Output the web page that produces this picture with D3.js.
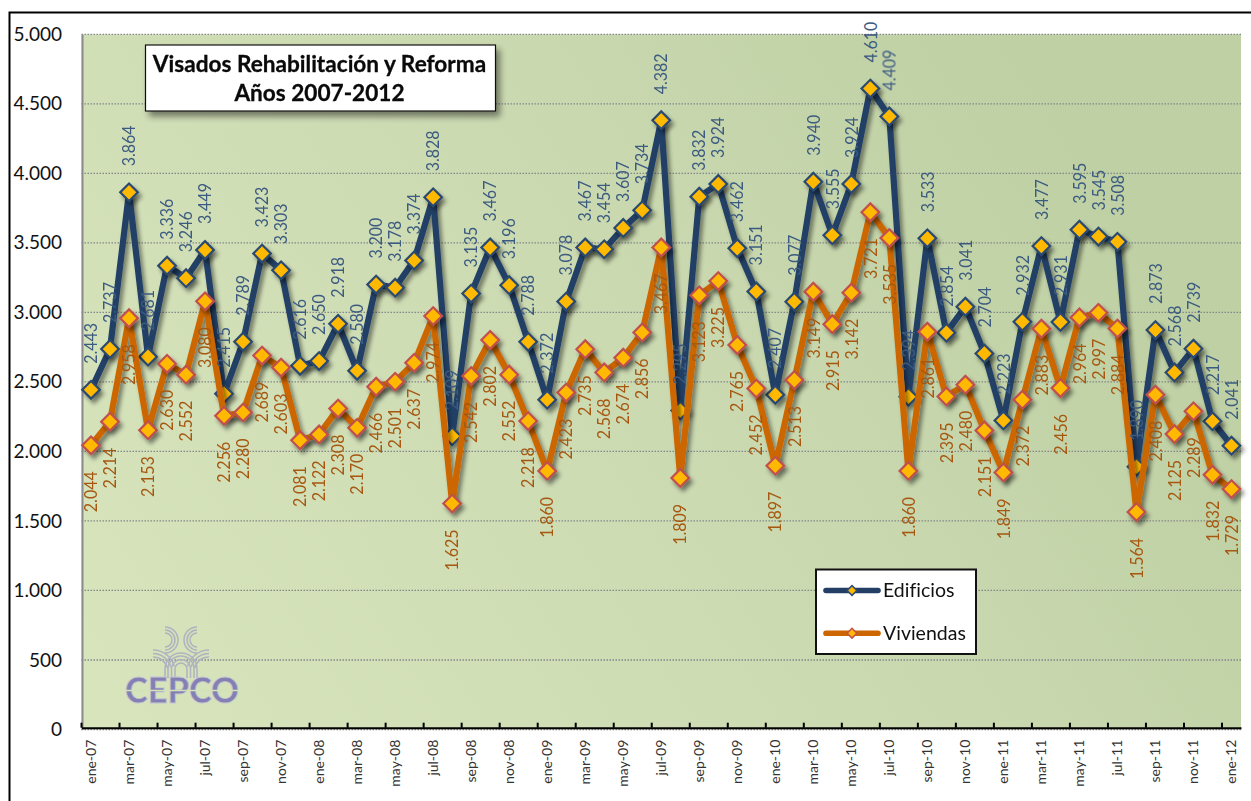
<!DOCTYPE html>
<html><head><meta charset="utf-8">
<script src="https://cdnjs.cloudflare.com/ajax/libs/d3/7.8.5/d3.min.js"></script>
<style>html,body{margin:0;padding:0;background:#fff;overflow:hidden}text{font-family:Lato,"Open Sans",sans-serif;font-variant-ligatures:none}</style>
</head><body><svg id="c" width="1251" height="801"></svg>
<script>
const years=["07","08","09","10","11"];
const months=["ene","feb","mar","abr","may","jun","jul","ago","sep","oct","nov","dic"];
const categories=[];years.forEach(y=>months.forEach(m=>categories.push(m+"-"+y)));categories.push("ene-12");
const edificios=[2443,2737,3864,2681,3336,3246,3449,2415,2789,3423,3303,2616,
2650,2918,2580,3200,3178,3374,3828,2109,3135,3467,3196,2788,
2372,3078,3467,3454,3607,3734,4382,2295,3832,3924,3462,3151,
2407,3077,3940,3555,3924,4610,4409,2394,3533,2854,3041,2704,
2223,2932,3477,2931,3595,3545,3508,1890,2873,2568,2739,2217,
2041];
const viviendas=[2044,2214,2958,2153,2630,2552,3080,2256,2280,2689,2603,2081,
2122,2308,2170,2466,2501,2637,2974,1625,2542,2802,2552,2218,
1860,2423,2735,2568,2674,2856,3467,1809,3123,3225,2765,2452,
1897,2513,3149,2915,3142,3721,3535,1860,2861,2395,2480,2151,
1849,2372,2883,2456,2964,2997,2884,1564,2408,2125,2289,1832,
1729];
const yTicks=[0,500,1000,1500,2000,2500,3000,3500,4000,4500,5000];
const titleLines=["Visados Rehabilitación y Reforma","Años 2007-2012"];
const seriesDefs=[
 {name:"Edificios",values:edificios,line:"#243f66",edge:"#2c4a70",label:"#3c5b80",dir:-1},
 {name:"Viviendas",values:viviendas,line:"#cc6600",edge:"#c0504d",label:"#a65810",dir:1}];

const fmt=v=>d3.format(",")(v).replace(/,/g,".");
const svg=d3.select("#c");
const L=81.5,R=1241,T=34.3,B=729.5;
const x=d3.scaleBand().domain(categories).range([L,R]);
const y=d3.scaleLinear().domain([0,5000]).range([B,T]);
const defs=svg.append("defs");
const g=defs.append("linearGradient").attr("id","bg").attr("x1","0").attr("y1","0.9").attr("x2","1").attr("y2","0.5");
g.append("stop").attr("offset","0").attr("stop-color","#d7e4bc");
g.append("stop").attr("offset","0.5").attr("stop-color","#cddbb3");
g.append("stop").attr("offset","1").attr("stop-color","#bfd0a4");
const sh=defs.append("filter").attr("id","sh").attr("x","-10%").attr("y","-10%").attr("width","120%").attr("height","125%");
sh.append("feDropShadow").attr("dx",3).attr("dy",4).attr("stdDeviation",2.2).attr("flood-color","#000").attr("flood-opacity",.45);
const sb=defs.append("filter").attr("id","sb").attr("x","-5%").attr("y","-10%").attr("width","115%").attr("height","130%");
sb.append("feDropShadow").attr("dx",4).attr("dy",5).attr("stdDeviation",3).attr("flood-color","#000").attr("flood-opacity",.45);

svg.append("rect").attr("x",L).attr("y",T).attr("width",R-L).attr("height",B-T).attr("fill","url(#bg)");
svg.append("path").attr("d","M9.5 801V12.5H1251").attr("fill","none").attr("stroke","#000").attr("stroke-width",2);
svg.append("g").selectAll("line").data(yTicks).join("line")
 .attr("x1",L).attr("x2",R).attr("y1",d=>y(d)).attr("y2",d=>y(d))
 .attr("stroke","#84878a").attr("stroke-width",1.3).attr("stroke-dasharray","1.5 1.5");
const ya=svg.append("g").attr("transform",`translate(${L+.5},0)`)
 .call(d3.axisLeft(y).tickValues(yTicks).tickSize(0).tickPadding(20).tickFormat(fmt));
ya.select(".domain").attr("stroke","#8a8a8a").attr("stroke-width",2);
ya.selectAll("text").attr("font-size",19).attr("fill","#111").attr("font-family","Lato");
const xa=svg.append("g").attr("transform",`translate(0,${B-1.8})`);
const xAxis=d3.axisBottom(x).tickValues(categories.filter((d,i)=>i%2==0)).tickSize(0).tickPadding(0);
xa.call(xAxis);
xa.select(".domain").attr("stroke","#000").attr("stroke-width",2);
xa.selectAll("text").attr("font-size",14).attr("fill","#333").attr("font-family","Lato")
 .attr("text-anchor","end").attr("dy",null)
 .attr("transform","translate(0,12) rotate(-90)").attr("x",0).attr("y",4.5);
xa.selectAll(".tick").append("line").attr("x1",-x.bandwidth()/2).attr("x2",-x.bandwidth()/2).attr("y1",0).attr("y2",-5).attr("stroke","#000").attr("stroke-width",2);
// logo
const logo=svg.append("g");
const arc=(cx,cy,r,a0,a1)=>{const p=d3.path();p.arc(cx,cy,r,a0,a1);return p.toString();};
const PI=Math.PI;
const band=(cx,cy,rs,a0,a1,extra)=>rs.forEach(r=>{
  logo.append("path").attr("d",arc(cx,cy,r,a0,a1)+(extra?extra(r):"")).attr("fill","none").attr("stroke","#aeb3bf").attr("stroke-width",1.5);
});
band(165,640,[7,10,13],-PI/2,PI/2);
band(197,640,[7,10,13],PI/2,PI*1.5);
band(153,672,[15,18.5,22],-PI/2,-PI*.08);
band(209,672,[15,18.5,22],-PI*.92,-PI/2);
band(181,669,[6,9.5,13,16],PI,2*PI,r=>`v9M${181-r} 669v9`);
logo.append("text").attr("x",182).attr("y",703).attr("text-anchor","middle").attr("font-size",36).attr("font-weight",900)
 .attr("textLength",114).attr("lengthAdjust","spacingAndGlyphs").attr("fill","#8580b4").attr("stroke","#c4c6d2").attr("stroke-width",.8).text("CEPCO");
logo.append("line").attr("x1",125).attr("x2",240).attr("y1",690.5).attr("y2",690.5).attr("stroke","#d4e1b9").attr("stroke-width",1.3);
// series
const cx=i=>x(categories[i])+x.bandwidth()/2;
const layer=svg.append("g");
seriesDefs.forEach(s=>{
 const ln=d3.line().x((d,i)=>cx(i)).y(d=>y(d));
 layer.append("path").attr("d",ln(s.values)).attr("fill","none").attr("stroke",s.line).attr("stroke-width",6.2).attr("stroke-linejoin","miter").attr("stroke-miterlimit",3).attr("filter","url(#sh)");
 const gm=layer.append("g").attr("filter","url(#sh)");
 gm.selectAll("path").data(s.values).join("path")
  .attr("transform",(d,i)=>`translate(${cx(i)},${y(d)}) rotate(45)`)
  .attr("d",d3.symbol().type(d3.symbolSquare).size(155)())
  .attr("fill","#ffb900").attr("stroke",s.edge).attr("stroke-width",2.2);
});
seriesDefs.forEach(s=>{
 layer.append("g").selectAll("text").data(s.values).join("text")
  .attr("transform",(d,i)=>`translate(${cx(i)+6.2},${y(d)+s.dir*26}) rotate(-90) scale(1,1.12)`)
  .attr("text-anchor",s.dir<0?"start":"end").attr("font-size",16).attr("fill",s.label).text(fmt);
});
// title
const tb=svg.append("g");
tb.append("rect").attr("x",145.5).attr("y",45).attr("width",350).attr("height",66).attr("fill","#fff").attr("stroke","#111").attr("stroke-width",1.2).attr("filter","url(#sb)");
tb.selectAll("text").data(titleLines).join("text").attr("x",319.5).attr("y",(d,i)=>72+i*29)
 .attr("text-anchor","middle").attr("font-size",22.6).attr("font-weight",700).attr("fill","#0a0a0a").attr("stroke","#0a0a0a").attr("stroke-width",.3).text(d=>d);
// legend
const lg=svg.append("g");
lg.append("rect").attr("x",816).attr("y",569.5).attr("width",160).attr("height",84.5).attr("fill","#fff").attr("stroke","#111").attr("stroke-width",2);
seriesDefs.forEach((s,i)=>{
 const yy=590.5+i*42.7;
 lg.append("line").attr("x1",826).attr("x2",878).attr("y1",yy).attr("y2",yy).attr("stroke",s.line).attr("stroke-width",5.6).attr("stroke-linecap","round");
 lg.append("path").attr("transform",`translate(852,${yy}) rotate(45)`).attr("d",d3.symbol().type(d3.symbolSquare).size(48)()).attr("fill","#ffb900").attr("stroke",s.edge).attr("stroke-width",1.5);
 lg.append("text").attr("x",883).attr("y",yy+6.8).attr("font-size",19.5).attr("fill","#111").text(s.name);
});
</script></body></html>
